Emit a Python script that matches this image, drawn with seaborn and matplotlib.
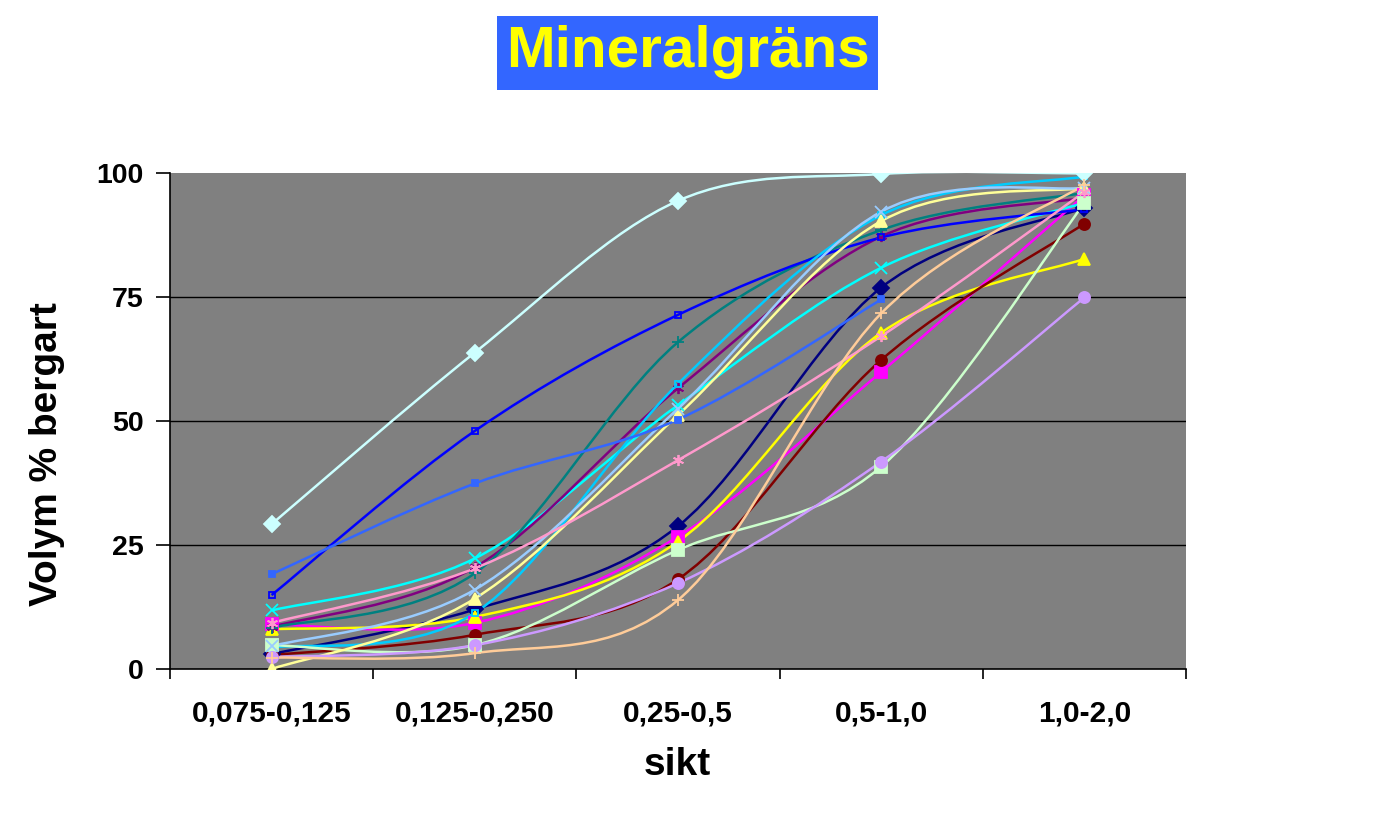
import numpy as np
import pandas as pd
import matplotlib
matplotlib.use("Agg")
import matplotlib.pyplot as plt
from matplotlib.path import Path
from matplotlib.patches import PathPatch, Rectangle
import seaborn as sns

categories = ["0,075-0,125", "0,125-0,250", "0,25-0,5", "0,5-1,0", "1,0-2,0"]

navy        = [3.0, 12.0, 28.8, 76.9, 93.0]
magenta     = [9.0, 9.3, 26.7, 59.9, 95.5]
yellow      = [8.0, 10.5, 25.7, 67.8, 82.7]
cyan        = [11.8, 22.3, 53.2, 80.9, 94.0]
purple      = [8.5, 20.5, 56.6, 87.2, 95.0]
darkred     = [2.8, 6.9, 18.1, 62.3, 89.8]
teal        = [8.3, 19.3, 65.9, 88.5, 96.0]
blue        = [14.9, 48.0, 71.4, 87.0, 92.7]
skyblue     = [4.3, 11.3, 57.5, 91.5, 99.3]
lightcyan   = [29.2, 63.8, 94.4, 99.8, 99.9]
lightgreen  = [4.8, 4.8, 24.0, 40.8, 93.9]
lightyellow = [0.0, 14.2, 51.2, 90.3, 97.0]
paleblue    = [4.6, 16.0, 52.5, 92.2, 97.0]
rose        = [9.3, 20.3, 42.1, 67.1, 96.2]
lavender    = [2.4, 4.8, 17.3, 41.8, 74.9]
tan         = [2.3, 3.2, 13.9, 71.7, 97.6]
medblue     = [19.1, 37.4, 50.3, 74.5, np.nan]

series = [
    (navy, "#000080", "D", dict()),
    (magenta, "#FF00FF", "s", dict()),
    (yellow, "#FFFF00", "^", dict()),
    (cyan, "#00FFFF", "x", dict()),
    (purple, "#800080", (6, 2, 0), dict()),
    (darkred, "#800000", "o", dict()),
    (teal, "#008080", "+", dict()),
    (blue, "#0000FF", "s", dict(markerfacecolor="none", markersize=4)),
    (skyblue, "#00CCFF", "s", dict(markerfacecolor="none", markersize=4)),
    (lightcyan, "#CCFFFF", "D", dict()),
    (lightgreen, "#CCFFCC", "s", dict()),
    (lightyellow, "#FFFF99", "^", dict()),
    (paleblue, "#99CCFF", "x", dict()),
    (rose, "#FF99CC", (6, 2, 0), dict()),
    (lavender, "#CC99FF", "o", dict()),
    (tan, "#FFCC99", "+", dict()),
    (medblue, "#3366FF", "s", dict(markersize=4)),
]

sns.set_style("white")
plt.rcParams["font.family"] = ["Liberation Sans", "DejaVu Sans"]
plt.rcParams["font.weight"] = "bold"
plt.rcParams["text.color"] = "black"
plt.rcParams["axes.labelcolor"] = "black"
plt.rcParams["xtick.color"] = "black"
plt.rcParams["ytick.color"] = "black"

fig = plt.figure(figsize=(13.89, 8.24), dpi=100)
ax = fig.add_axes([170 / 1389, 1 - 669 / 824, 1016 / 1389, 496 / 824])
ax.set_facecolor("#808080")

xs = np.arange(len(categories), dtype=float)


def smooth_path(x, y):
    pts = np.column_stack([x, y])
    n = len(pts)
    verts = [pts[0]]
    codes = [Path.MOVETO]
    for i in range(n - 1):
        p0 = pts[i - 1] if i > 0 else pts[i]
        p1 = pts[i]
        p2 = pts[i + 1]
        p3 = pts[i + 2] if i + 2 < n else pts[i + 1]
        c1 = p1 + (p2 - p0) / 6.0
        c2 = p2 - (p3 - p1) / 6.0
        verts += [c1, c2, p2]
        codes += [Path.CURVE4] * 3
    return Path(verts, codes)


for z, (vals, color, marker, extra) in enumerate(series):
    v = np.array(vals, dtype=float)
    ok = ~np.isnan(v)
    path = smooth_path(xs[ok], v[ok])
    ax.add_patch(PathPatch(path, facecolor="none", edgecolor=color, lw=1.8,
                           transform=ax.transData, zorder=3 + z * 0.01))
    df = pd.DataFrame({"x": xs[ok], "y": v[ok]})
    kw = dict(markersize=8, markeredgewidth=1.3, markeredgecolor=color)
    kw.update(extra)
    sns.lineplot(data=df, x="x", y="y", ax=ax, color=color, marker=marker,
                 linestyle="", zorder=4 + z * 0.01, **kw)

ax.set_xlim(-0.5, len(categories) - 0.5)
ax.set_ylim(0, 100)
ax.set_yticks([0, 25, 50, 75, 100])
ax.set_xticks(xs)
ax.set_xticklabels(categories, fontsize=21.5, fontweight="bold", color="black")
ax.set_xticks(np.arange(-0.5, len(categories), 1.0), minor=True)
ax.tick_params(axis="x", which="major", bottom=True, length=0, pad=22)
ax.tick_params(axis="x", which="minor", bottom=True, length=7, width=1.2,
               color="black", direction="out")
ax.tick_params(axis="y", which="major", left=True, length=10, width=1.2,
               color="black", direction="out", pad=9, labelsize=20.5,
               labelcolor="black")
for lab in ax.get_yticklabels():
    lab.set_fontweight("bold")
ax.yaxis.grid(True, color="black", lw=1)
ax.xaxis.grid(False)
ax.set_axisbelow(True)
ax.get_ygridlines()[-1].set_visible(False)
ax.get_ygridlines()[0].set_visible(False)

for s in ["top", "right"]:
    ax.spines[s].set_visible(False)
for s in ["left", "bottom"]:
    ax.spines[s].set_color("black")
    ax.spines[s].set_linewidth(1.2)

ax.set_xlabel("sikt", fontsize=28, fontweight="bold", color="black")
ax.set_ylabel("Volym % bergart", fontsize=28, fontweight="bold", color="black")
ax.xaxis.set_label_coords(0.499, -0.194)
ax.xaxis.label.set_va("center")
ax.yaxis.set_label_coords(-0.121, 0.433)
ax.yaxis.label.set_va("center")

fig.patches.append(Rectangle((497 / 1389, 1 - 90 / 824), 381 / 1389, 74 / 824,
                             transform=fig.transFigure, facecolor="#3366FF",
                             edgecolor="none", zorder=0))
fig.text(687.5 / 1389, 1 - 52 / 824, "Mineralgräns", ha="center", va="center",
         fontsize=42, fontweight="bold", color="#FFFF00")

fig.savefig("out.png", dpi=100)
